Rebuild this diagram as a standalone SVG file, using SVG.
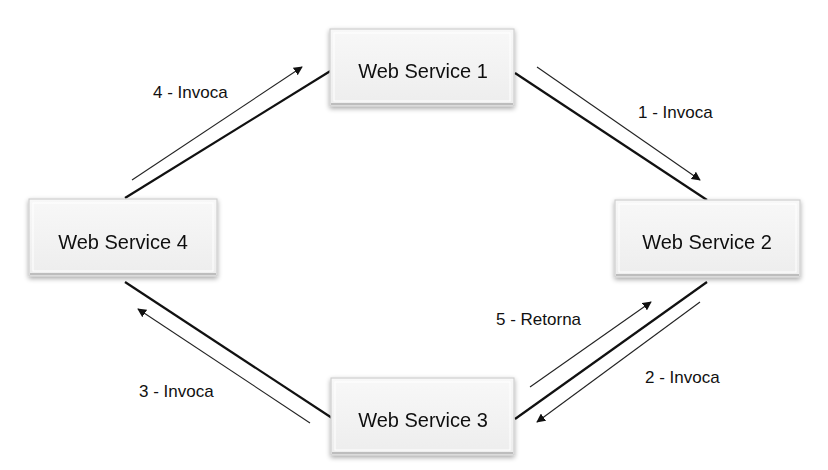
<svg xmlns="http://www.w3.org/2000/svg" width="828" height="470" viewBox="0 0 828 470">
<defs>
<linearGradient id="g" x1="0" y1="0" x2="0" y2="1">
<stop offset="0" stop-color="#f8f8f8"/>
<stop offset="1" stop-color="#ededed"/>
</linearGradient>
<filter id="sh" x="-10%" y="-15%" width="120%" height="135%">
<feGaussianBlur in="SourceAlpha" stdDeviation="2.5"/>
<feOffset dx="0" dy="2" result="b"/>
<feComponentTransfer><feFuncA type="linear" slope="0.35"/></feComponentTransfer>
<feMerge><feMergeNode/><feMergeNode in="SourceGraphic"/></feMerge>
</filter>
<marker id="ah" viewBox="0 0 10 10" refX="9" refY="5" markerWidth="9" markerHeight="9" markerUnits="userSpaceOnUse" orient="auto">
<path d="M0,0 L10,5 L0,10 z" fill="#111"/>
</marker>
</defs>
<style>
.box{fill:url(#g);stroke:#cfcfcf;stroke-width:1.2}
.bev{fill:none;stroke:#bdbdbd;stroke-width:2}
.hi{fill:none;stroke:#ffffff;stroke-width:1}
.nt{font-family:"Liberation Sans",Arial,sans-serif;font-size:20px;fill:#111;text-anchor:middle}
.lb{font-family:"Liberation Sans",Arial,sans-serif;font-size:17px;fill:#111}
.main{stroke:#111;stroke-width:2.2;fill:none}
.arr{stroke:#222;stroke-width:1.1;fill:none;marker-end:url(#ah)}
</style>
<rect width="828" height="470" fill="#ffffff"/>
<g id="connectors">
<line class="main" x1="125" y1="198" x2="332" y2="70"/>
<line class="main" x1="515" y1="73" x2="707" y2="200"/>
<line class="main" x1="707" y1="282" x2="515" y2="419"/>
<line class="main" x1="125" y1="282" x2="332" y2="418"/>
<line class="arr" x1="132" y1="180" x2="302" y2="67"/>
<line class="arr" x1="537" y1="67" x2="700" y2="180"/>
<line class="arr" x1="530" y1="387" x2="651" y2="302"/>
<line class="arr" x1="700" y1="302" x2="537" y2="422"/>
<line class="arr" x1="310" y1="423" x2="138" y2="309"/>
<text class="lb" x="153" y="98">4 - Invoca</text>
<text class="lb" x="638" y="118">1 - Invoca</text>
<text class="lb" x="496" y="325">5 - Retorna</text>
<text class="lb" x="645" y="383">2 - Invoca</text>
<text class="lb" x="139" y="397">3 - Invoca</text>
</g>
<g id="ws1" filter="url(#sh)">
<rect class="box" x="330" y="29" width="184" height="77"/>
<rect class="hi" x="334" y="33" width="176" height="68"/>
<line class="bev" x1="331" y1="104" x2="513" y2="104"/>
<text class="nt" x="423" y="78">Web Service 1</text>
</g>
<g id="ws2" filter="url(#sh)">
<rect class="box" x="615" y="200" width="185" height="77"/>
<rect class="hi" x="619" y="204" width="177" height="68"/>
<line class="bev" x1="616" y1="275" x2="799" y2="275"/>
<text class="nt" x="707" y="249">Web Service 2</text>
</g>
<g id="ws3" filter="url(#sh)">
<rect class="box" x="331" y="378" width="183" height="77"/>
<rect class="hi" x="335" y="382" width="175" height="68"/>
<line class="bev" x1="332" y1="453" x2="513" y2="453"/>
<text class="nt" x="423" y="427">Web Service 3</text>
</g>
<g id="ws4" filter="url(#sh)">
<rect class="box" x="29" y="199" width="188" height="77"/>
<rect class="hi" x="33" y="203" width="180" height="68"/>
<line class="bev" x1="30" y1="274" x2="216" y2="274"/>
<text class="nt" x="123" y="249">Web Service 4</text>
</g>
</svg>
